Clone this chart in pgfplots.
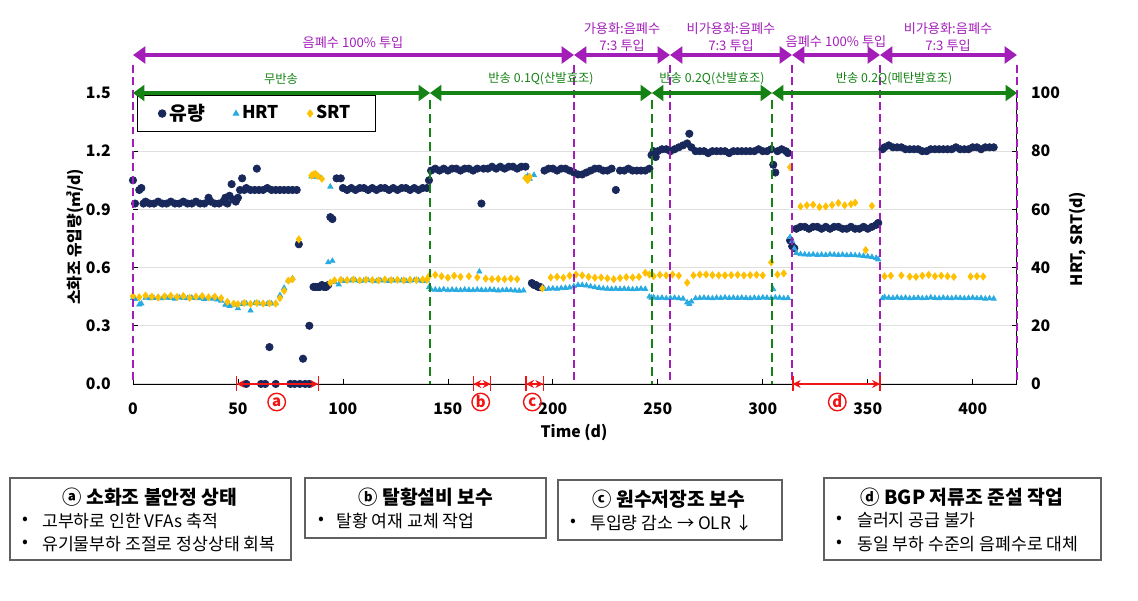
\documentclass[border=0pt]{standalone}
\usepackage{pgfplots}
\pgfplotsset{compat=1.18}
\usetikzlibrary{arrows.meta}
\usepackage{fontspec}
\setmainfont{Noto Sans CJK KR}

\definecolor{flowc}{RGB}{25,40,90}
\definecolor{hrtc}{RGB}{41,171,226}
\definecolor{srtc}{RGB}{255,192,0}
\definecolor{purp}{RGB}{163,30,185}
\definecolor{grn}{RGB}{20,130,20}
\definecolor{redc}{RGB}{240,20,20}
\newcommand{\fs}[1]{\fontsize{#1}{#1}\selectfont}

\begin{document}
\begin{tikzpicture}
\pgfplotsset{
  base/.style={scale only axis, width=17.68cm, height=5.82cm, xmin=0, xmax=421,
    /pgf/number format/assume math mode=true,
    tick label style={font=\bfseries\fs{9}},
    tick align=inside, major tick length=3pt, tick style={black, thin},
    clip=false},
}
% left axis: flow
\begin{axis}[base, ymin=0, ymax=1.5,
  axis x line*=bottom, axis y line*=left,
  y axis line style={draw=none},
  xtick={0,50,...,400}, ytick={0,0.3,0.6,0.9,1.2,1.5},
  ymajorgrids, grid style={gray!25, line width=0.6pt},
  yticklabel style={/pgf/number format/fixed, /pgf/number format/fixed zerofill,
    /pgf/number format/precision=1, xshift=-0.32cm},
  xticklabel style={yshift=-0.26cm},
]
\addplot[only marks, mark=*, mark size=2.1pt, flowc] coordinates {
(0,1.05)(1,0.93)(3,1.00)(4,1.01)(5,0.93)(6,0.94)(8,0.93)(10,0.93)(12,0.94)(14,0.93)(16,0.93)(18,0.94)(20,0.93)(22,0.93)(24,0.94)(26,0.93)(28,0.93)(30,0.94)(32,0.93)(34,0.93)(36,0.96)(37,0.94)(39,0.93)(41,0.93)(43,0.94)(44,0.96)(45,0.93)(46,0.97)(47,1.03)(48,0.95)(49,0.94)(50,0.96)(51,1.00)(52,1.06)(53,1.00)(54,1.01)(56,1.00)(58,1.00)(59,1.11)(60,1.00)(62,1.00)(64,1.01)(66,1.00)(68,1.00)(70,1.00)(72,1.00)(74,1.00)(76,1.00)(78,1.00)(79,0.72)(65,0.19)(81,0.13)(84,0.30)
(54,0)(61,0)(63,0)(68,0)(75,0)(77,0)(79.5,0)(82,0)(84,0)
(86,0.50)(87,0.50)(88,0.50)(89,0.50)(90,0.51)(91,0.50)(92,0.50)(93,0.51)
(94,0.86)(95,0.85)(97,1.06)(99,1.06)
(100,1.01)(102,1.00)(104,1.01)(106,1.00)(108,1.01)(110,1.01)(112,1.00)(114,1.01)(116,1.00)(118,1.01)(120,1.01)(122,1.00)(124,1.01)(126,1.00)(128,1.01)(130,1.01)(132,1.00)(134,1.01)(136,1.00)(138,1.01)(140,1.01)
(141,1.05)(142,1.10)(144,1.11)(146,1.10)(148,1.11)(150,1.10)(152,1.11)(154,1.11)(156,1.10)(158,1.11)(160,1.11)(162,1.10)(164,1.11)(166,0.93)(167,1.11)(169,1.11)(171,1.12)(173,1.11)(175,1.12)(177,1.11)(179,1.12)(181,1.12)(183,1.11)(185,1.12)(187,1.12)
(190,0.52)(191,0.51)(192,0.51)(193,0.50)(194,0.50)
(196,1.10)(198,1.11)(200,1.11)(202,1.10)(204,1.11)(206,1.11)(208,1.10)(210,1.09)(212,1.08)(214,1.08)(216,1.09)(218,1.10)(220,1.11)(222,1.11)(224,1.10)(226,1.10)(228,1.11)(230,1.00)(232,1.10)(234,1.10)(236,1.11)(238,1.10)(240,1.10)(242,1.10)(244,1.10)(246,1.11)
(247,1.18)(248,1.20)(249,1.17)(250,1.20)(252,1.21)(254,1.21)(256,1.20)(258,1.21)(260,1.22)(262,1.23)(264,1.24)(265,1.29)(266,1.22)(268,1.20)(270,1.20)(272,1.20)(274,1.19)(276,1.20)(278,1.20)(280,1.20)(282,1.20)(284,1.19)(286,1.20)(288,1.20)(290,1.20)(292,1.20)(294,1.20)(296,1.20)(298,1.21)(300,1.20)(302,1.20)(304,1.21)(305,1.13)(306,1.09)(307,1.20)(309,1.21)(311,1.20)(312,1.19)
(313,0.74)(314,0.71)(315,0.70)(316,0.80)(318,0.81)(320,0.81)(322,0.80)(324,0.81)(326,0.81)(328,0.80)(330,0.81)(332,0.80)(334,0.81)(336,0.81)(338,0.80)(340,0.80)(342,0.81)(344,0.80)(346,0.80)(348,0.81)(350,0.80)(352,0.81)(354,0.82)(355,0.83)
(357,1.21)(358,1.22)(360,1.23)(362,1.22)(364,1.22)(366,1.22)(368,1.21)(370,1.21)(372,1.21)(374,1.21)(376,1.20)(378,1.20)(380,1.21)(382,1.21)(384,1.21)(386,1.21)(388,1.21)(390,1.21)(392,1.22)(394,1.21)(396,1.21)(398,1.21)(400,1.22)(402,1.22)(404,1.21)(406,1.22)(408,1.22)(410,1.22)
};
\end{axis}
% right axis: HRT, SRT
\begin{axis}[base, ymin=0, ymax=100,
  axis y line*=right, hide x axis, ytick={0,20,...,100},
  yticklabel style={xshift=0.16cm},
  legend columns=3,
  legend style={at={(rel axis cs:0.0045,0.993)}, anchor=north west, draw=black,
    line width=0.6pt, font=\bfseries\fs{10}, inner xsep=0.42cm, inner ysep=0.1cm,
    /tikz/every even column/.append style={column sep=0.5cm}},
  legend image code/.code={\draw[mark repeat=2,mark phase=2,#1] plot coordinates {(0cm,0cm)(0.15cm,0cm)(0.3cm,0cm)};},
]
\addlegendimage{only marks, mark=*, mark size=2.1pt, flowc}
\addlegendentry{\fs{11}유량}
\addplot[only marks, mark=triangle*, mark size=1.7pt, hrtc] coordinates {
(0,29.5)(1,29.2)(3,27.3)(4,27.6)(6,29.6)(8,29.4)(10,29.5)(12,29.8)(14,29.4)(16,29.6)(18,29.5)(20,29.3)(22,29.7)(24,29.5)(26,29.4)(28,29.6)(30,29.5)(32,29.4)(34,29.2)(36,29.5)(38,29.3)(40,29.0)(42,28.6)(44,27.2)(46,26.8)(48,27.2)(50,26.0)(52,27.5)(54,27.6)(56,25.2)(58,27.7)(60,27.6)(62,27.7)(64,27.5)(66,27.6)(68,27.7)(70,30.5)(72,33.0)(74,35.5)(76,36.3)
(85,71.3)(86,71.6)(87,71.2)(88,71.5)(89,71.0)(93,41.8)(94,67.8)(95,42.3)
(96,35.0)(98,34.2)(100,35.4)(102,35.6)(104,35.5)(106,35.6)(108,35.4)(110,35.5)(112,35.6)(114,35.5)(116,35.3)(118,35.5)(120,35.6)(122,35.4)(124,35.5)(126,35.6)(128,35.5)(130,35.4)(132,35.5)(134,35.6)(136,35.5)(138,35.4)(140,35.5)
(141,33.2)(142,32.5)(144,32.4)(146,32.3)(148,32.5)(150,32.2)(152,32.4)(154,32.3)(156,32.2)(158,32.4)(160,32.3)(162,32.2)(164,32.4)(165,38.6)(166,32.3)(168,32.2)(170,32.4)(172,32.3)(174,32.1)(176,32.2)(178,32.3)(180,32.2)(182,32.1)(184,32.0)(186,32.1)
(187,71.0)(188,71.5)(189,70.5)(191,71.8)(195,33.0)
(196,32.6)(198,32.7)(200,32.8)(202,32.7)(204,32.9)(206,33.0)(208,33.1)(210,33.6)(212,34.0)(214,34.0)(216,33.8)(218,33.5)(220,33.2)(222,33.0)(224,32.8)(226,32.7)(228,32.6)(230,32.7)(232,32.6)(234,32.7)(236,32.6)(238,32.5)(240,32.6)(242,32.7)(244,32.6)(246,30.0)
(247,29.6)(248,29.8)(250,29.5)(252,29.6)(254,29.4)(256,29.5)(258,29.6)(260,29.4)(262,29.3)(264,28.0)(265,27.5)(266,28.3)(268,29.4)(270,29.5)(272,29.6)(274,29.5)(276,29.4)(278,29.6)(280,29.5)(282,29.7)(284,29.5)(286,29.6)(288,29.5)(290,29.6)(292,29.5)(294,29.4)(296,29.6)(298,29.5)(300,29.7)(302,29.6)(304,29.5)(305,32.5)(306,29.7)(308,29.6)(310,29.4)(312,29.5)
(313,50.5)(314,49.0)(315,46.5)(316,45.0)(318,44.6)(320,44.5)(322,44.4)(324,44.5)(326,44.3)(328,44.4)(330,44.3)(332,44.5)(334,44.4)(336,44.3)(338,44.4)(340,44.2)(342,44.3)(344,44.2)(346,44.1)(348,44.0)(350,43.8)(352,43.6)(354,43.3)(355,42.8)
(357,29.4)(358,29.8)(360,29.6)(362,29.5)(364,29.7)(366,29.5)(368,29.6)(370,29.4)(372,29.5)(374,29.6)(376,29.4)(378,29.5)(380,29.7)(382,29.5)(384,29.4)(386,29.6)(388,29.5)(390,29.4)(392,29.6)(394,29.5)(396,29.4)(398,29.5)(400,29.6)(402,29.4)(404,29.5)(406,29.3)(408,29.4)(410,29.3)
};
\addlegendentry{HRT}
\addplot[only marks, mark=diamond*, mark size=2pt, srtc] coordinates {
(0,30.2)(3,29.8)(6,30.4)(9,30.0)(12,29.7)(15,30.1)(18,30.3)(21,29.9)(24,30.2)(27,29.6)(30,30.0)(33,30.2)(36,29.8)(39,30.0)(42,29.5)(45,28.2)(48,27.6)(50,27.4)(53,27.8)(56,27.5)(59,27.8)(62,27.6)(65,27.7)(68,27.6)(70,29.5)(72,32.0)(74,35.5)(76,36.0)(79,49.7)
(85,71.6)(86,72.0)(87,72.2)(88,71.5)(90,70.5)
(94,34.8)(96,35.6)(99,35.8)(102,35.7)(105,35.9)(108,35.6)(111,35.8)(114,35.7)(117,35.6)(120,35.9)(123,35.7)(126,35.8)(129,35.6)(132,35.8)(135,35.7)(138,35.9)(140,35.8)
(141,37.0)(144,37.5)(147,37.0)(150,36.5)(153,37.2)(156,36.8)(160,37.0)(164,36.6)(168,36.2)(171,36.0)(174,36.1)(177,36.0)(180,36.2)(183,36.0)
(187,70.8)(188,70.0)(189,71.2)(195,32.8)
(199,36.6)(202,36.8)(205,36.5)(208,37.2)(211,37.6)(214,37.3)(217,36.8)(220,36.5)(223,36.6)(226,36.3)(229,36.0)(232,36.4)(235,36.7)(238,36.6)(241,36.8)(244,38.2)(246,37.6)
(248,37.0)(251,37.5)(254,37.3)(257,37.6)(260,37.2)(264,34.8)(267,37.3)(270,37.6)(273,37.6)(276,37.4)(279,37.3)(282,37.3)(285,37.4)(288,37.5)(291,37.3)(294,37.4)(297,37.5)(300,37.3)(304,41.8)(307,37.6)(310,38.0)
(313,74.5)
(318,61.0)(321,61.4)(324,61.6)(327,60.8)(330,61.0)(333,61.5)(336,62.2)(339,61.4)(342,61.8)(344,62.3)(349,46.0)(352,61.2)
(358,37.0)(361,37.2)(366,37.3)(370,36.9)(373,36.8)(376,37.2)(379,37.5)(382,37.0)(385,37.2)(388,37.0)(391,36.8)(399,36.9)(402,37.0)(405,36.9)
};
\addlegendentry{SRT}
\end{axis}

% annotations in pixel units of the reference (x right, y down)
\begin{scope}[x=0.02cm, y=-0.02cm, shift={(-2.66cm,7.68cm)}]
\useasboundingbox (0,0) rectangle (1138,600);
% phase lines
\foreach \px in {133,574,670,792,880,1017}
  \draw[purp, line width=1.1pt, dash pattern=on 4.5pt off 2.5pt] (\px,65) -- (\px,384);
\foreach \px in {430,652,772}
  \draw[grn, line width=1.1pt, dash pattern=on 5pt off 3pt] (\px,100) -- (\px,384);
% feed arrows
\foreach \a/\b in {133/574,574/670,670/792,792/880,880/1017}
  \draw[purp, line width=2pt, {Triangle[length=7pt,width=9.5pt]}-{Triangle[length=7pt,width=9.5pt]}] (\a,55) -- (\b,55);
\begin{scope}[purp, every node/.style={font=\fontsize{7.5}{10}\selectfont, align=center}]
\node at (353,43) {음폐수 100\% 투입};
\node at (622,37) {가용화:음폐수\\7:3 투입};
\node at (731,37) {비가용화:음폐수\\7:3 투입};
\node at (836,42) {음폐수 100\% 투입};
\node at (948,37) {비가용화:음폐수\\7:3 투입};
\end{scope}
% recycle arrows
\foreach \a/\b in {133/430,430/652,652/772,772/1017}
  \draw[grn, line width=2.3pt, {Triangle[length=6.5pt,width=9pt]}-{Triangle[length=6.5pt,width=9pt]}] (\a,93) -- (\b,93);
\begin{scope}[grn, every node/.style={font=\fs{7}}]
\node at (281,79) {무반송};
\node at (541,79) {반송 0.1Q(산발효조)};
\node at (712,79) {반송 0.2Q(산발효조)};
\node at (894,79) {반송 0.2Q(메탄발효조)};
\end{scope}
% event markers
\foreach \a/\b/\c/\l in {236.7/318.3/276.7/a,473.3/490.7/480.7/b,526/543.3/532.3/c,792.7/880/837.3/d}{
  \draw[redc, line width=0.9pt, {Stealth[length=4.5pt,width=4.5pt]}-{Stealth[length=4.5pt,width=4.5pt]}] (\a,384) -- (\b,384);
  \draw[redc, line width=0.9pt] (\a,376) -- (\a,391) (\b,376) -- (\b,391);
  \node[circle, draw=redc, line width=0.8pt, text=redc, inner sep=0pt, minimum size=0.35cm, font=\bfseries\fs{8.5}] at (\c,402) {\l};
}
% axis titles
\node[font=\bfseries\fs{9}] at (574,432) {Time (d)};
\node[font=\bfseries\fs{9}, rotate=90] at (75,237) {소화조 유입량(㎥/d)};
\node[font=\bfseries\fs{9}, rotate=90] at (1078,239) {HRT, SRT(d)};
% explanation boxes
\begin{scope}[every node/.style={font=\fs{9.8}, anchor=west}]
\draw[gray!75!black, line width=0.7pt] (10,478) rectangle (291,560);
\node[font=\bfseries\fs{11}, anchor=center] at (150,497) {ⓐ 소화조 불안정 상태};
\node at (16,521) {•}; \node at (36,521) {고부하로 인한 VFAs 축적};
\node at (16,544) {•}; \node at (36,544) {유기물부하 조절로 정상상태 회복};
\draw[gray!75!black, line width=0.7pt] (305,478) rectangle (546,538);
\node[font=\bfseries\fs{11}, anchor=center] at (426,497) {ⓑ 탈황설비 보수};
\node at (312,521) {•}; \node at (330,521) {탈황 여재 교체 작업};
\draw[gray!75!black, line width=0.7pt] (558,480) rectangle (782,540);
\node[font=\bfseries\fs{11}, anchor=center] at (669,499) {ⓒ 원수저장조 보수};
\node at (564,523) {•}; \node at (584,523) {투입량 감소 → OLR ↓};
\draw[gray!75!black, line width=0.7pt] (824,478) rectangle (1101,560);
\node[font=\bfseries\fs{11}, anchor=center] at (962,497) {ⓓ BGP 저류조 준설 작업};
\node at (830,520) {•}; \node at (851,520) {슬러지 공급 불가};
\node at (830,544) {•}; \node at (851,544) {동일 부하 수준의 음폐수로 대체};
\end{scope}
\end{scope}
\end{tikzpicture}
\end{document}
